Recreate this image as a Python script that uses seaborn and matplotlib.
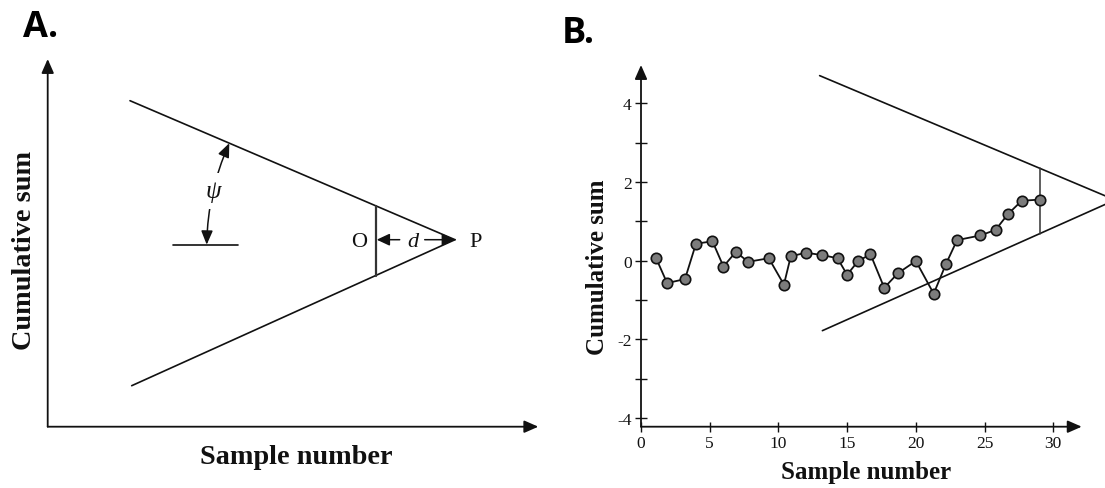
import numpy as np
import pandas as pd
import matplotlib
matplotlib.use("Agg")
import matplotlib.pyplot as plt
import seaborn as sns
from matplotlib.patches import FancyArrowPatch

# ---------------- Panel B data ----------------
sample_number = [1.1, 1.9, 3.2, 4.0, 5.2, 6.0, 6.9, 7.8, 9.3, 10.4, 10.9, 12.0,
                 13.2, 14.3, 15.0, 15.8, 16.7, 17.7, 18.7, 20.0, 21.3, 22.2,
                 23.0, 24.7, 25.8, 26.7, 27.7, 29.0]
cumulative_sum = [0.06, -0.57, -0.47, 0.43, 0.49, -0.15, 0.22, -0.03, 0.06,
                  -0.61, 0.11, 0.20, 0.14, 0.06, -0.36, -0.01, 0.16, -0.69,
                  -0.32, -0.01, -0.84, -0.08, 0.52, 0.64, 0.78, 1.18, 1.52, 1.55]
b_mask_start_x = [13.0, 13.2]      # upper arm, lower arm
b_mask_start_y = [4.70, -1.78]
b_mask_vertex = (34.5, 1.54)       # point P
b_O_x = 29.0                       # last sample (point O)
b_xticks = [0, 5, 10, 15, 20, 25, 30]
b_yticks = [-4, -2, 0, 2, 4]
b_yminor = [-3, -1, 1, 3]

# ---------------- Panel A schematic (axes units) ----------------
a_mask_start_x = [82.3, 84.0]
a_mask_start_y = [326.0, 41.0]
a_vertex = (407.3, 187.0)          # P
a_lead_d = 79.3                    # distance O-P
a_ref_line_x = [125.0, 190.0]
a_ref_line_y = 182.0
a_psi_arm_x = 181.6
a_psi_end = (159.0, 182.0)

sns.set_theme(style="white")
plt.rcParams["font.family"] = ["Liberation Serif", "DejaVu Serif"]
plt.rcParams["axes.unicode_minus"] = False

fig = plt.figure(figsize=(11.05, 4.89), dpi=100)
axA = fig.add_axes([0.04317, 0.12536, 0.44398, 0.75194])
axB = fig.add_axes([0.58009, 0.12536, 0.39882, 0.73967])

LC = "#111111"


def axis_arrows(ax):
    for s in ax.spines.values():
        s.set_visible(False)
    style = "-|>,head_length=0.5,head_width=0.22"
    for end in [(0, 1), (1, 0)]:
        ax.annotate("", xy=end, xytext=(0, 0), xycoords="axes fraction",
                    textcoords="axes fraction", annotation_clip=False,
                    arrowprops=dict(arrowstyle=style, color=LC, lw=1.3,
                                    mutation_scale=17, shrinkA=0, shrinkB=0))


# ================= Panel A =================
axA.set_xlim(0, 490.6)
axA.set_ylim(0, 367.7)
axA.set_xticks([])
axA.set_yticks([])
axis_arrows(axA)
vx, vy = a_vertex
for sx, sy in zip(a_mask_start_x, a_mask_start_y):
    axA.plot([sx, vx], [sy, vy], color=LC, lw=1.2)
O_x = vx - a_lead_d
up = np.interp(O_x, [a_mask_start_x[0], vx], [a_mask_start_y[0], vy])
lo = np.interp(O_x, [a_mask_start_x[1], vx], [a_mask_start_y[1], vy])
axA.plot([O_x, O_x], [lo, up], color="#333333", lw=1.6)
axA.plot(a_ref_line_x, [a_ref_line_y, a_ref_line_y], color=LC, lw=1.2)
psi_y = np.interp(a_psi_arm_x, [a_mask_start_x[0], vx], [a_mask_start_y[0], vy])
arc = FancyArrowPatch((a_psi_arm_x, psi_y), a_psi_end,
                      arrowstyle="<|-|>,head_length=0.6,head_width=0.25",
                      connectionstyle="arc3,rad=0.1", mutation_scale=14,
                      color=LC, lw=1.1, shrinkA=0, shrinkB=0)
axA.add_patch(arc)
axA.text(165.6, 236, "ψ", fontsize=18, style="italic", ha="center",
         va="center", color=LC,
         bbox=dict(facecolor="white", edgecolor="none", pad=5), zorder=5)
ty = vy - 2
axA.text(O_x - 16.7, ty, "O", fontsize=16, ha="center", va="center", color=LC)
axA.text(O_x + 36.8, ty, "d", fontsize=16, style="italic", ha="center",
         va="center", color=LC)
axA.text(vx + 21, ty, "P", fontsize=16, ha="center", va="center", color=LC)
small = dict(arrowstyle="-|>,head_length=0.6,head_width=0.28", color=LC,
             lw=1.1, mutation_scale=13, shrinkA=0, shrinkB=0)
axA.annotate("", xy=(O_x + 1, vy), xytext=(O_x + 24, vy), arrowprops=small)
axA.annotate("", xy=(vx, vy), xytext=(O_x + 49, vy), arrowprops=small)
axA.set_xlabel("Sample number", fontsize=20.3, fontweight="bold", color=LC)
axA.set_ylabel("Cumulative sum", fontsize=20.3, fontweight="bold", color=LC)
axA.xaxis.set_label_coords(0.5057, -0.0462)
axA.yaxis.set_label_coords(-0.0212, 0.4833)

# ================= Panel B =================
df = pd.DataFrame({"Sample number": sample_number,
                   "Cumulative sum": cumulative_sum})
sns.lineplot(data=df, x="Sample number", y="Cumulative sum", ax=axB,
             sort=False, color=LC, lw=1.3, marker="o", markersize=7.5,
             markerfacecolor="#7c7c7c", markeredgecolor="#111111",
             markeredgewidth=1.2, zorder=4)
axB.set_xlim(0, 32.07)
axB.set_ylim(-4.22, 4.97)
axis_arrows(axB)
bvx, bvy = b_mask_vertex
for sx, sy in zip(b_mask_start_x, b_mask_start_y):
    axB.plot([sx, bvx], [sy, bvy], color=LC, lw=1.2, clip_on=False)
bu = np.interp(b_O_x, [b_mask_start_x[0], bvx], [b_mask_start_y[0], bvy])
bl = np.interp(b_O_x, [b_mask_start_x[1], bvx], [b_mask_start_y[1], bvy])
axB.plot([b_O_x, b_O_x], [bl, bu], color="#333333", lw=1.1, zorder=3)

axB.set_xticks(b_xticks)
axB.set_xticklabels([str(v) for v in b_xticks])
axB.set_yticks(b_yticks)
axB.set_yticklabels([str(v) for v in b_yticks])
axB.set_yticks(b_yminor, minor=True)
axB.tick_params(axis="y", which="both", direction="inout", length=8.5,
                width=1.0, color=LC, labelsize=12.5, pad=2.5, left=True,
                labelcolor=LC)
axB.tick_params(axis="x", which="both", direction="inout", length=6.5,
                width=1.0, color=LC, labelsize=12.5, pad=2.5, bottom=True,
                labelcolor=LC)
axB.set_xlabel("Sample number", fontsize=18, fontweight="bold", color=LC)
axB.set_ylabel("Cumulative sum", fontsize=18, fontweight="bold", color=LC)
axB.xaxis.set_label_coords(0.510, -0.092)
axB.yaxis.set_label_coords(-0.0726, 0.443)

# panel letters
fig.text(0.0205, 0.925, "A.", fontsize=26, fontweight="bold",
         family=["Open Sans", "DejaVu Sans"], va="baseline", color="black")
fig.text(0.5083, 0.9114, "B.", fontsize=26, fontweight="bold",
         family=["Open Sans", "DejaVu Sans"], va="baseline", color="black")

fig.savefig("out.png", dpi=100)
